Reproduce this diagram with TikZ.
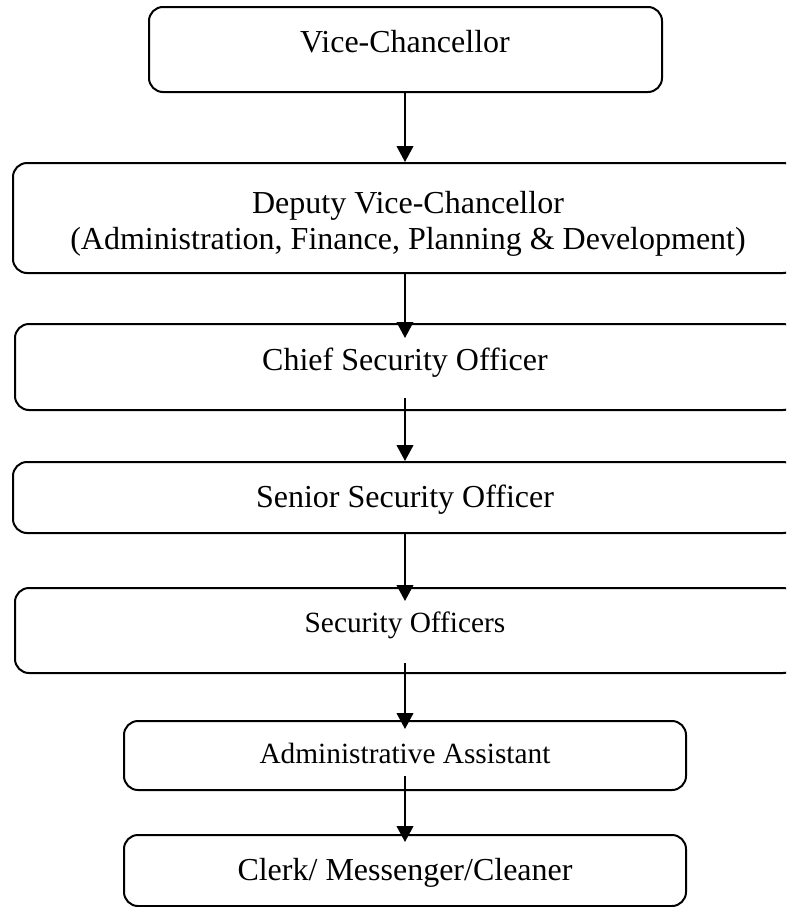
\documentclass[tikz,border=0pt]{standalone}
\usepackage{fontspec}
\setmainfont{Liberation Serif}
\usetikzlibrary{arrows.meta,fit,calc}

\tikzset{
  box/.style={draw, line width=1.5pt, rounded corners=14pt*0.75, inner sep=0pt, fit={#1}},
  big/.style={font=\fontsize{24}{27}\selectfont, inner sep=0pt, anchor=base},
  small/.style={font=\fontsize{22}{26}\selectfont, inner sep=0pt, anchor=base},
  link/.style={line width=1.5pt, -{Triangle[length=12pt,width=12.5pt]}}
}

\begin{document}
\begin{tikzpicture}[x=0.75pt,y=-0.75pt]
\useasboundingbox (0,0) rectangle (786,907);
\clip (0,0) rectangle (786,907);

% boxes of the chain, top to bottom
\node[box={(149,7) (662,92)}] (vc) {};
\node[box={(13,163) (797,273)}] (dvc) {};
\node[box={(15,324) (797,410)}] (cso) {};
\node[box={(13,462) (797,533)}] (sso) {};
\node[box={(15,588) (797,673)}] (so) {};
\node[box={(124,721) (686,790)}] (aa) {};
\node[box={(124,835) (686,906)}] (clk) {};

% titles
\node[big] at (405,52) {Vice-Chancellor};
\node[font=\fontsize{24}{27}\selectfont, inner sep=0pt, align=center] at (408,224)
  {Deputy Vice-Chancellor\\(Administration, Finance, Planning \& Development)};
\node[big] at (405,370) {Chief Security Officer};
\node[big] at (405,507) {Senior Security Officer};
\node[small] at (405,632) {Security Officers};
\node[small] at (405,763) {Administrative Assistant};
\node[big] at (405,880) {Clerk/ Messenger/Cleaner};

% reporting lines
\draw[link] (vc.south -| 405,0) -- (dvc.north -| 405,0);
\draw[link] (dvc.south -| 405,0) -- ([yshift=-15*0.75pt]cso.north -| 405,0);
\draw[link] ([yshift=13*0.75pt]cso.south -| 405,0) -- (sso.north -| 405,0);
\draw[link] (sso.south -| 405,0) -- ([yshift=-14*0.75pt]so.north -| 405,0);
\draw[link] ([yshift=11*0.75pt]so.south -| 405,0) -- ([yshift=-9*0.75pt]aa.north -| 405,0);
\draw[link] ([yshift=15*0.75pt]aa.south -| 405,0) -- ([yshift=-8*0.75pt]clk.north -| 405,0);
\end{tikzpicture}
\end{document}
